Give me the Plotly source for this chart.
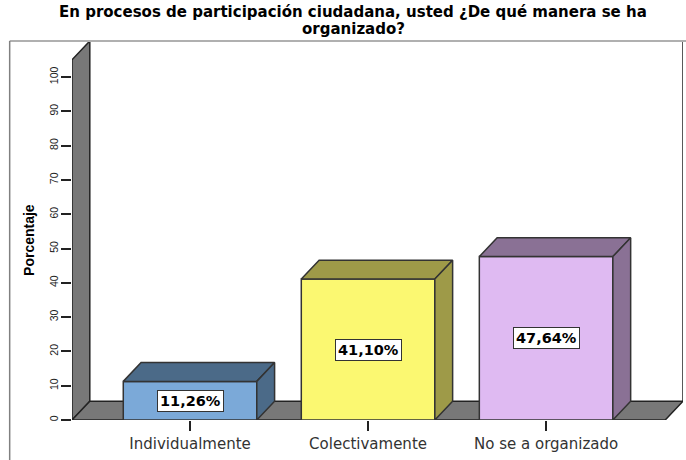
import plotly.graph_objects as go

CATEGORIES = ["Individualmente", "Colectivamente", "No se a organizado"]
VALUES = [11.26, 41.10, 47.64]
VALUE_LABELS = ["11,26%", "41,10%", "47,64%"]
FRONT_COLORS = ["#7ba9d8", "#fbf871", "#dfbaf2"]
SIDE_COLORS = ["#4b6a88", "#9e9a48", "#8a7195"]
Y_TICKS = [0, 10, 20, 30, 40, 50, 60, 70, 80, 90, 100]
TITLE_LINES = [
    "En procesos de participación ciudadana, usted ¿De qué manera se ha",
    "organizado?",
]

# 3D look: depth of the box in axis units
BAR_WIDTH = 0.75
DEPTH_X = 0.1
DEPTH_Y = 5.5
X_LEFT = -0.663
X_RIGHT = 2.669
Y_TOP = 105
EDGE = "#333333"
WALL = "#787878"

FONT = "Liberation Sans"
WIDE_FONT = "DejaVu Sans"

positions = list(range(len(CATEGORIES)))


def poly(points):
    return "M " + " L ".join(f"{x} {y}" for x, y in points) + " Z"


fig = go.Figure()

fig.add_trace(
    go.Bar(
        x=positions,
        y=VALUES,
        width=BAR_WIDTH,
        marker=dict(color=FRONT_COLORS, line=dict(color=EDGE, width=1.5)),
        hoverinfo="skip",
    )
)

# ---- BAR TOP AND SIDE FACES ----
for pos, val, side in zip(positions, VALUES, SIDE_COLORS):
    x0 = pos - BAR_WIDTH / 2
    x1 = pos + BAR_WIDTH / 2
    faces = [
        [(x0, val), (x0 + DEPTH_X, val + DEPTH_Y), (x1 + DEPTH_X, val + DEPTH_Y), (x1, val), (x0, val)],
        [(x1, val), (x1 + DEPTH_X, val + DEPTH_Y), (x1 + DEPTH_X, DEPTH_Y), (x1, 0), (x1, val)],
    ]
    for face in faces:
        fig.add_trace(
            go.Scatter(
                x=[p[0] for p in face],
                y=[p[1] for p in face],
                mode="lines",
                fill="toself",
                fillcolor=side,
                line=dict(color=EDGE, width=1.5),
                hoverinfo="skip",
            )
        )

# ---- WALL, FLOOR, FRAME ----
shapes = [
    dict(
        type="path",
        layer="below",
        xref="x",
        yref="y",
        path=poly([(X_LEFT, 0), (X_LEFT, Y_TOP), (X_LEFT + DEPTH_X, Y_TOP + DEPTH_Y), (X_LEFT + DEPTH_X, DEPTH_Y)]),
        fillcolor=WALL,
        line=dict(color="#222222", width=1.5),
    ),
    dict(
        type="path",
        layer="below",
        xref="x",
        yref="y",
        path=poly([(X_LEFT, 0), (X_RIGHT, 0), (X_RIGHT + DEPTH_X, DEPTH_Y), (X_LEFT + DEPTH_X, DEPTH_Y)]),
        fillcolor=WALL,
        line=dict(color="#222222", width=1.5),
    ),
    dict(
        type="line",
        layer="below",
        xref="x",
        yref="y",
        x0=X_RIGHT + DEPTH_X,
        x1=X_RIGHT + DEPTH_X,
        y0=DEPTH_Y,
        y1=Y_TOP + DEPTH_Y,
        line=dict(color="#222222", width=1.5),
    ),
    # grey outer frame
    dict(
        type="line", xref="paper", yref="paper", x0=-0.102, x1=1.01, y0=1, y1=1,
        line=dict(color="#b0b0b0", width=2),
    ),
    dict(
        type="line", xref="paper", yref="paper", x0=-0.102, x1=-0.102, y0=1, y1=-0.11,
        line=dict(color="#808080", width=1.5),
    ),
]

# ---- VALUE LABELS ----
annotations = [
    dict(
        x=pos,
        y=val / 2,
        text=label,
        showarrow=False,
        bgcolor="white",
        bordercolor=EDGE,
        borderwidth=1,
        borderpad=2,
        font=dict(family=WIDE_FONT, size=14.5, color="black", weight="bold"),
    )
    for pos, val, label in zip(positions, VALUES, VALUE_LABELS)
]

# ---- TITLE ----
for line, top in zip(TITLE_LINES, [1.076, 1.031]):
    annotations.append(
        dict(
            xref="paper",
            yref="paper",
            x=0.46,
            y=top,
            yanchor="middle",
            text=line,
            showarrow=False,
            font=dict(family=WIDE_FONT, size=15, color="black", weight="bold"),
        )
    )

# axis title sits below the axis centre, so it is placed by hand
annotations.append(
    dict(
        xref="paper",
        yref="paper",
        x=-0.0868,
        y=0.475,
        text="Porcentaje",
        textangle=-90,
        showarrow=False,
        font=dict(family=FONT, size=14, color="black", weight="bold"),
    )
)

fig.update_layout(
    width=686,
    height=460,
    margin=dict(l=72, r=3, t=41, b=39.5, autoexpand=False),
    paper_bgcolor="white",
    plot_bgcolor="white",
    showlegend=False,
    shapes=shapes,
    annotations=annotations,
    xaxis=dict(
        range=[X_LEFT, X_RIGHT + DEPTH_X],
        tickvals=positions,
        ticktext=CATEGORIES,
        ticks="outside",
        ticklen=10,
        tickwidth=1.5,
        tickcolor="#222222",
        showgrid=False,
        zeroline=False,
        showline=False,
        tickfont=dict(family=WIDE_FONT, size=15, color="#333333"),
    ),
    yaxis=dict(
        range=[0, Y_TOP + DEPTH_Y],
        tickvals=Y_TICKS,
        ticks="outside",
        ticklen=10,
        tickwidth=1.5,
        tickcolor="#222222",
        tickangle=-90,
        ticklabelstandoff=-1,
        showgrid=False,
        zeroline=False,
        showline=False,
        tickfont=dict(family=FONT, size=10.5, color="#222222"),
    ),
)

# page margin would push the chart off its 686x460 window
fig.write_html(
    "out.html",
    post_script="document.body.style.margin='0';",
    config=dict(displayModeBar=False),
)
